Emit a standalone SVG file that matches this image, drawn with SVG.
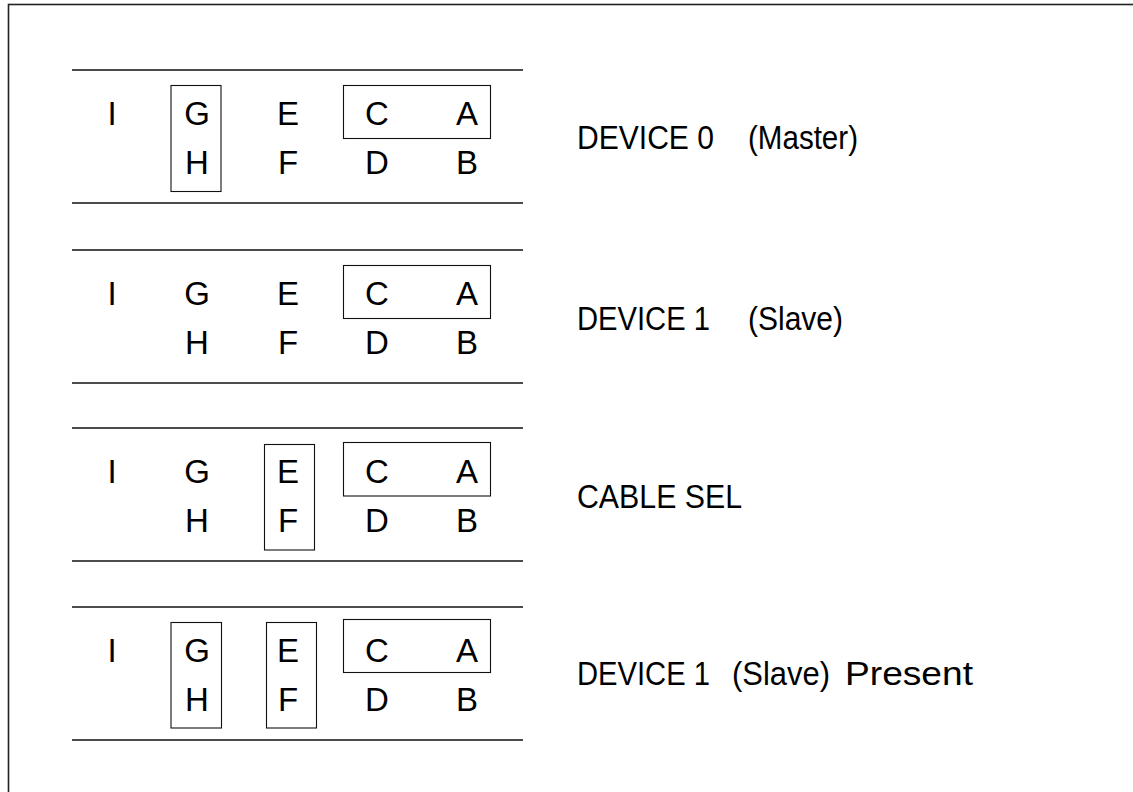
<svg xmlns="http://www.w3.org/2000/svg" width="1133" height="792" viewBox="0 0 1133 792">
<style>
.bg{fill:#fff}
.frame{fill:none;stroke:#222;stroke-width:1.6}
.rule{stroke:#111;stroke-width:1.4}
.box{fill:none;stroke:#111;stroke-width:1.1}
.pin{font-family:"Liberation Sans",Arial,sans-serif;font-size:33px;fill:#000;text-anchor:middle}
.lbl{font-family:"Liberation Sans",Arial,sans-serif;font-size:33px;fill:#000}
</style>
<defs>
<g id="pins">
<line class="rule" x1="72" y1="0" x2="523" y2="0"/>
<line class="rule" x1="72" y1="133" x2="523" y2="133"/>
<text class="pin" x="112" y="54.5">I</text>
<text class="pin" x="197" y="54.5">G</text>
<text class="pin" x="288" y="54.5">E</text>
<text class="pin" x="377" y="54.5">C</text>
<text class="pin" x="467" y="54.5">A</text>
<text class="pin" x="197" y="103.5">H</text>
<text class="pin" x="288" y="103.5">F</text>
<text class="pin" x="377" y="103.5">D</text>
<text class="pin" x="467" y="103.5">B</text>
</g>
</defs>
<rect class="bg" x="0" y="0" width="1133" height="792"/>
<rect class="frame" x="8.5" y="4.5" width="1200" height="900"/>

<g id="device0">
<use href="#pins" transform="translate(0,70)"/>
<rect class="box" x="171" y="85.5" width="50" height="106"/>
<rect class="box" x="343.5" y="85.5" width="147" height="53"/>
<text class="lbl" y="149"><tspan x="577" textLength="137" lengthAdjust="spacingAndGlyphs">DEVICE 0</tspan><tspan x="748" textLength="110" lengthAdjust="spacingAndGlyphs">(Master)</tspan></text>
</g>

<g id="device1">
<use href="#pins" transform="translate(0,250)"/>
<rect class="box" x="343.5" y="265.5" width="147" height="53"/>
<text class="lbl" y="330"><tspan x="577" textLength="133" lengthAdjust="spacingAndGlyphs">DEVICE 1</tspan><tspan x="748" textLength="95" lengthAdjust="spacingAndGlyphs">(Slave)</tspan></text>
</g>

<g id="cablesel">
<use href="#pins" transform="translate(0,428)"/>
<rect class="box" x="264.5" y="444.5" width="50" height="105.5"/>
<rect class="box" x="343.5" y="442.5" width="147" height="53.5"/>
<text class="lbl" x="577" y="508" textLength="165" lengthAdjust="spacingAndGlyphs">CABLE SEL</text>
</g>

<g id="device1present">
<use href="#pins" transform="translate(0,607)"/>
<rect class="box" x="171" y="622.5" width="50.5" height="105.5"/>
<rect class="box" x="266.5" y="622.5" width="50" height="105.5"/>
<rect class="box" x="343.5" y="619.5" width="147" height="53"/>
<text class="lbl" y="685"><tspan x="577" textLength="133" lengthAdjust="spacingAndGlyphs">DEVICE 1</tspan><tspan x="732" textLength="98" lengthAdjust="spacingAndGlyphs">(Slave)</tspan><tspan x="845" textLength="128" lengthAdjust="spacingAndGlyphs">Present</tspan></text>
</g>
</svg>
